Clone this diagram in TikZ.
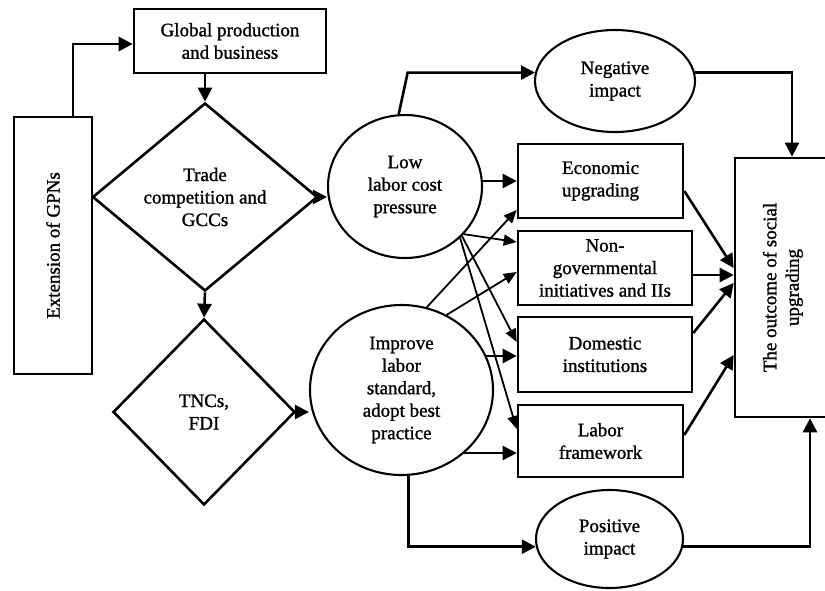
\documentclass[tikz,border=0pt]{standalone}
\usepackage{fontspec}
\setmainfont{Liberation Serif}[FakeBold=1.2]
\usetikzlibrary{shapes.geometric,arrows.meta,backgrounds,calc}
\begin{document}
\begin{tikzpicture}[x=1pt,y=-1pt,
 every node/.style={font=\fontsize{19}{22.5}\selectfont, align=center, inner sep=0pt},
 box/.style={draw, line width=2.6pt, fill=white, rectangle},
 oval/.style={draw, line width=2.1pt, fill=white, ellipse},
 dia/.style={draw, line width=2.6pt, fill=white, diamond},
 arr/.style={line width=2.6pt, -{Triangle[length=14pt,width=14pt]}},
 thinarr/.style={line width=1.8pt, -{Triangle[length=13pt,width=11pt]}}]
\clip (0,0) rectangle (825,590);

\node[box, minimum width=78pt, minimum height=257pt] (EXT) at (53,245.5) {\rotatebox{90}{Extension of GPNs}};
\node[box, minimum width=192pt, minimum height=64pt] (GP) at (230,41) {Global production\\and business};
\node[dia, minimum width=225pt, minimum height=188pt, aspect=1.2] (D1) at (205,197) {Trade\\competition and\\GCCs};
\node[dia, minimum width=182pt, minimum height=186pt] (D2) at (204,412) {TNCs,\\FDI};
\node[oval, minimum width=154pt, minimum height=143pt] (LL) at (405,186.5) {Low\\labor cost\\pressure};
\node[oval, minimum width=183pt, minimum height=170pt] (IM) at (401.5,390) {Improve\\labor\\standard,\\adopt best\\practice};
\node[oval, minimum width=160pt, minimum height=102pt] (NI) at (615,81) {Negative\\impact};
\node[oval, minimum width=147pt, minimum height=98pt] (PI) at (609.5,539) {Positive\\impact};
\node[box, minimum width=165pt, minimum height=74pt] (EU) at (600.5,181) {Economic\\upgrading};
\node[box, minimum width=174pt, minimum height=74pt] (NG) at (605,268) {Non-\\governmental\\initiatives and IIs};
\node[box, minimum width=174pt, minimum height=75pt] (DI) at (605,354.5) {Domestic\\institutions};
\node[box, minimum width=165pt, minimum height=72pt] (LF) at (600.5,441) {Labor\\framework};
\node[box, minimum width=96pt, minimum height=259pt] (OUT) at (783,287.5) {\rotatebox{90}{\begin{tabular}{@{}c@{}}The outcome of social\\upgrading\end{tabular}}};

\begin{scope}[on background layer]
\fill[white] (0,0) rectangle (825,590);
\draw[arr] ($(EXT.north)+(20,0)$) |- ($(GP.west)+(0,3)$);
\draw[arr] (GP.south -| D1.north) -- (D1.north);
\draw[arr] (D1.south) -- (D2.north);
\draw[arr] (D1.east) -- (D1.east -| LL.west);
\draw[arr] (D2.east) -- (D2.east -| IM.west);
\draw[arr] (LL.95) -- ($(LL.95 |- NI.174)+(9,0)$) -- (NI.174);
\draw[arr] (NI.6) -| ($(OUT.north)+(9,0)$);
\draw[arr] ($(IM.south)+(7,0)$) |- (PI.186);
\draw[arr] (PI.-6) -| ($(OUT.south)+(27,0)$);
\draw[arr] (EU.west -| LL.center) -- (EU.west);
\draw[arr] ($(DI.west -| IM.center)+(0,1.5)$) -- ($(DI.west)+(0,1.5)$);
\draw[arr] ($(LF.west -| IM.center)+(0,12)$) -- ($(LF.west)+(0,12)$);
\draw[thinarr] (LL.-39) -- ($(NG.west)+(0,-26)$);
\draw[thinarr] (LL.-41) -- ($(DI.west)+(0,-12.5)$);
\draw[thinarr] (LL.-43) -- ($(LF.west)+(0,-12)$);
\draw[thinarr] (IM.73) -- ($(EU.west)+(0,29)$);
\draw[thinarr] (IM.59) -- ($(NG.west)+(0,4)$);
\draw[arr] ($(EU.east)+(0,10)$) -- ($(OUT.west)+(0,-19.5)$);
\draw[arr] ($(NG.east)+(0,7)$) -- ($(OUT.west)+(0,-12.5)$);
\draw[arr] ($(DI.east)+(0,-21.5)$) -- ($(OUT.west)+(0,-4.5)$);
\draw[arr] ($(LF.east)+(0,-6)$) -- ($(OUT.west)+(0,67.5)$);
\end{scope}
\end{tikzpicture}
\end{document}
